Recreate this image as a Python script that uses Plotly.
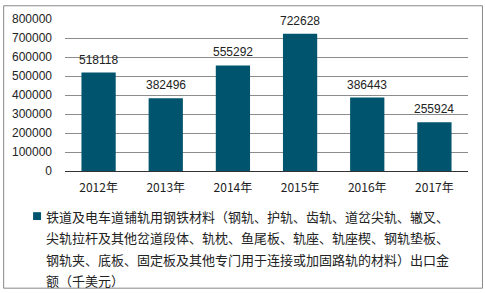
import plotly.graph_objects as go

years = ["2012年", "2013年", "2014年", "2015年", "2016年", "2017年"]
values = [518118, 382496, 555292, 722628, 386443, 255924]
legend_lines = [
    "铁道及电车道铺轨用钢铁材料（钢轨、护轨、齿轨、道岔尖轨、辙叉、",
    "尖轨拉杆及其他岔道段体、轨枕、鱼尾板、轨座、轨座楔、钢轨垫板、",
    "钢轨夹、底板、固定板及其他专门用于连接或加固路轨的材料）出口金",
    "额（千美元）",
]
y_ticks = [0, 100000, 200000, 300000, 400000, 500000, 600000, 700000, 800000]

W, H = 485, 293
L, R, T, B = 64, 468, 16, 171
pw, ph = R - L, B - T

def px(x):
    return (x - L) / pw

def py(y):
    return (B - y) / ph

font = "Liberation Sans, Arial, Noto Sans CJK SC, sans-serif"
cjk = "Noto Sans CJK SC, sans-serif"

fig = go.Figure()
fig.add_trace(go.Bar(
    x=years, y=values,
    marker=dict(color="#00546E", line=dict(width=0)),
    showlegend=False,
))

annotations = []
for yr, v in zip(years, values):
    annotations.append(dict(
        x=yr, y=v, xref="x", yref="y", text=str(v), showarrow=False,
        yanchor="middle", yshift=13,
        font=dict(size=12, color="#222222", family=font),
    ))
for i, line in enumerate(legend_lines):
    annotations.append(dict(
        x=px(43), y=py(217 + i * 22), xref="paper", yref="paper",
        text=line, showarrow=False, xanchor="left", yanchor="middle",
        font=dict(size=13, color="#222222", family=cjk),
    ))

shapes = [
    dict(type="rect", xref="paper", yref="paper",
         x0=px(32), x1=px(40), y0=py(213), y1=py(221),
         fillcolor="#00546E", line=dict(width=0)),
    dict(type="rect", xref="paper", yref="paper",
         x0=px(2.5), x1=px(482.5), y0=py(2.5), y1=py(290.5),
         line=dict(color="#888888", width=1), fillcolor="rgba(0,0,0,0)"),
]

fig.update_layout(
    width=W, height=H,
    margin=dict(l=L, r=W - R, t=T, b=H - B),
    paper_bgcolor="white", plot_bgcolor="white",
    bargap=0.49,
    annotations=annotations,
    shapes=shapes,
    xaxis=dict(
        showline=True, linecolor="#333333", linewidth=1,
        tickfont=dict(size=12, color="#222222", family=cjk),
        ticks="", showgrid=False, ticklabelstandoff=6,
    ),
    yaxis=dict(
        range=[0, 800000], tickvals=y_ticks,
        ticktext=[str(v) for v in y_ticks],
        showgrid=True, gridcolor="#8c8c8c", gridwidth=1,
        zeroline=False, showline=False,
        tickfont=dict(size=12, color="#222222", family=font),
        ticks="", ticklabelstandoff=12,
    ),
)

fig.write_html("out.html")
